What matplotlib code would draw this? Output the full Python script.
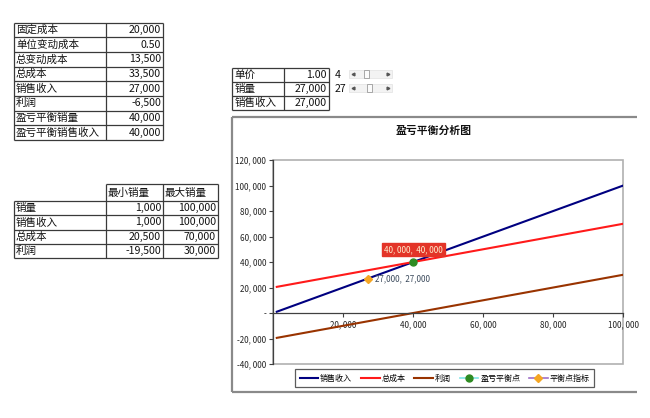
import matplotlib
matplotlib.use("Agg")
import matplotlib.pyplot as plt
from matplotlib.patches import Rectangle
from matplotlib.ticker import FuncFormatter, FixedLocator

plt.rcParams['font.family'] = ['Noto Sans CJK SC', 'DejaVu Sans']

# ---------------- data ----------------
t1_labels = ['固定成本', '单位变动成本', '总变动成本', '总成本', '销售收入', '利润', '盈亏平衡销量', '盈亏平衡销售收入']
t1_values = ['20,000', '0.50', '13,500', '33,500', '27,000', '-6,500', '40,000', '40,000']

t2_header = ['最小销量', '最大销量']
t2_labels = ['销量', '销售收入', '总成本', '利润']
t2_min = [1000, 1000, 20500, -19500]
t2_max = [100000, 100000, 70000, 30000]

t3_labels = ['单价', '销量', '销售收入']
t3_values = ['1.00', '27,000', '27,000']
t3_side = ['4', '27']

volume = [1000, 100000]
revenue = [1000, 100000]
total_cost = [20500, 70000]
profit = [-19500, 30000]
breakeven_x, breakeven_y = [40000], [40000]
indicator_x, indicator_y = [27000], [27000]

x_ticks = [20000, 40000, 60000, 80000, 100000]
y_ticks = [-40000, -20000, 0, 20000, 40000, 60000, 80000, 100000, 120000]

W, H = 650, 418
fig = plt.figure(figsize=(W / 100, H / 100), dpi=100)
bg = fig.add_axes([0, 0, 1, 1])
bg.set_xlim(0, W)
bg.set_ylim(H, 0)
bg.axis('off')

GRID = '#3a3a3a'
FS = 7.6
TC = '#111111'


def hline(x0, x1, y, c=GRID, lw=0.9):
    bg.plot([x0, x1], [y, y], color=c, lw=lw, solid_capstyle='butt')


def vline(x, y0, y1, c=GRID, lw=0.9):
    bg.plot([x, x], [y0, y1], color=c, lw=lw, solid_capstyle='butt')


# ---------------- table 1 ----------------
L, M, R, T, RH = 14, 106, 163, 22.7, 14.66
n = len(t1_labels)
for i in range(n + 1):
    hline(L, R, T + i * RH)
for x in (L, M, R):
    vline(x, T, T + n * RH)
for i, (lab, val) in enumerate(zip(t1_labels, t1_values)):
    yc = T + (i + 0.5) * RH
    bg.text(L + 2, yc, lab, fontsize=FS, va='center', ha='left', color=TC)
    bg.text(R - 2, yc, val, fontsize=FS, va='center', ha='right', color=TC)

# ---------------- table 2 ----------------
L2, M2a, M2b, R2 = 14, 106, 163, 218
HT, HB, RH2 = 184.3, 201.0, 14.3
hline(M2a, R2, HT)
vline(M2a, HT, HB)
vline(M2b, HT, HB)
vline(R2, HT, HB)
for j, h in enumerate(t2_header):
    x0 = (M2a, M2b)[j]
    bg.text(x0 + 2, (HT + HB) / 2, h, fontsize=FS, va='center', ha='left', color=TC)
m2 = len(t2_labels)
for i in range(m2 + 1):
    hline(L2, R2, HB + i * RH2)
for x in (L2, M2a, M2b, R2):
    vline(x, HB, HB + m2 * RH2)
for i, lab in enumerate(t2_labels):
    yc = HB + (i + 0.5) * RH2
    bg.text(L2 + 2, yc, lab, fontsize=FS, va='center', ha='left', color=TC)
    bg.text(M2b - 2, yc, f"{t2_min[i]:,}", fontsize=FS, va='center', ha='right', color=TC)
    bg.text(R2 - 2, yc, f"{t2_max[i]:,}", fontsize=FS, va='center', ha='right', color=TC)

# ---------------- table 3 ----------------
L3, M3, R3, T3, RH3 = 232.3, 284.3, 329, 67.7, 14.1
k = len(t3_labels)
for i in range(k + 1):
    hline(L3, R3, T3 + i * RH3)
for x in (L3, M3, R3):
    vline(x, T3, T3 + k * RH3)
for i, (lab, val) in enumerate(zip(t3_labels, t3_values)):
    yc = T3 + (i + 0.5) * RH3
    bg.text(L3 + 2, yc, lab, fontsize=FS, va='center', ha='left', color=TC)
    bg.text(R3 - 2, yc, val, fontsize=FS, va='center', ha='right', color=TC)
for i, s in enumerate(t3_side):
    yc = T3 + (i + 0.5) * RH3
    bg.text(335, yc, s, fontsize=FS, va='center', ha='left', color=TC)

# scrollbars
for i, thumb in enumerate((363.5, 366.5)):
    yc = T3 + (i + 0.5) * RH3 - 0.5
    bg.add_patch(Rectangle((349, yc - 4), 43, 8, facecolor='#f3f3f3', edgecolor='#e2e2e2', lw=0.5))
    bg.add_patch(Rectangle((thumb, yc - 4), 5.5, 8, facecolor='#fbfbfb', edgecolor='#9a9a9a', lw=0.6))
    bg.plot([353], [yc], marker='<', ms=2, color='#555555')
    bg.plot([388], [yc], marker='>', ms=2, color='#555555')

# ---------------- chart area border ----------------
CB = '#8a8a8a'
bg.plot([231.7, 637], [116.7, 116.7], color=CB, lw=1.6, solid_capstyle='butt')
bg.plot([231.7, 231.7], [116.7, 391.7], color=CB, lw=1.6, solid_capstyle='butt')
bg.plot([231.7, 637], [391.7, 391.7], color=CB, lw=1.6, solid_capstyle='butt')
bg.text(434, 130.7, '盈亏平衡分析图', fontsize=7.8, fontweight='bold', ha='center', va='center', color=TC)

# ---------------- chart ----------------
pl, pr, pt, pb = 273.3, 623.3, 160, 364
ax = fig.add_axes([pl / W, 1 - pb / H, (pr - pl) / W, (pb - pt) / H])
ax.set_xlim(0, 100000)
ax.set_ylim(-40000, 120000)
ax.patch.set_alpha(0)

for s in ('top', 'right'):
    ax.spines[s].set_visible(False)
ax.add_patch(Rectangle((0, 0), 1, 1, transform=ax.transAxes, fill=False,
                       edgecolor='#b0b0b0', lw=1.2, clip_on=False, zorder=0))
ax.spines['left'].set_color('#404040')
ax.spines['left'].set_linewidth(0.9)
ax.spines['bottom'].set_position(('data', 0))
ax.spines['bottom'].set_color('#404040')
ax.spines['bottom'].set_linewidth(0.9)

ax.xaxis.set_major_locator(FixedLocator(x_ticks))
ax.yaxis.set_major_locator(FixedLocator(y_ticks))


def fmt(v, pos=None):
    if v == 0:
        return '-'
    return f"{int(v):,}".replace(',', ', ')


ax.xaxis.set_major_formatter(FuncFormatter(fmt))
ax.yaxis.set_major_formatter(FuncFormatter(fmt))
ax.tick_params(axis='both', labelsize=5.8, colors='#404040', labelcolor='#222222', length=3, width=0.8)
ax.tick_params(axis='x', pad=2)
ax.tick_params(axis='y', pad=2)

ax.plot(volume, revenue, color='#000080', lw=1.5, label='销售收入')
ax.plot(volume, total_cost, color='#ff1a1a', lw=1.5, label='总成本')
ax.plot(volume, profit, color='#993300', lw=1.5, label='利润')
ax.plot(breakeven_x, breakeven_y, color='#7fe6e6', lw=1.2, marker='o', ms=5,
        markerfacecolor='#2e8b22', markeredgecolor='#2e8b22', label='盈亏平衡点', zorder=5)
ax.plot(indicator_x, indicator_y, color='#a070c8', lw=1.2, marker='D', ms=3.6,
        markerfacecolor='#f5a623', markeredgecolor='#f5a623', label='平衡点指标', zorder=5)

ax.annotate(f"{breakeven_x[0]:,},  {breakeven_y[0]:,}".replace('0,0', '0, 0'),
            xy=(breakeven_x[0], breakeven_y[0]), xytext=(0, 9), textcoords='offset points',
            ha='center', va='center', fontsize=5.8, color='#fff0d0',
            bbox=dict(boxstyle='square,pad=0.3', facecolor='#e33428', edgecolor='#e33428'))
ax.annotate(f"{indicator_x[0]:,},  {indicator_y[0]:,}".replace('0,0', '0, 0'),
            xy=(indicator_x[0], indicator_y[0]), xytext=(5, 0), textcoords='offset points',
            ha='left', va='center', fontsize=5.8, color='#3b4a5c')

leg = ax.legend(loc='center', bbox_to_anchor=(444.7 / W, 1 - 378 / H), bbox_transform=fig.transFigure,
                ncol=5, fontsize=5.8, frameon=True, fancybox=False, handlelength=2.3,
                handletextpad=0.25, columnspacing=1.1, borderpad=0.55, borderaxespad=0)
leg.get_frame().set_edgecolor('#333333')
leg.get_frame().set_linewidth(0.9)

fig.savefig('out.png', dpi=100)
